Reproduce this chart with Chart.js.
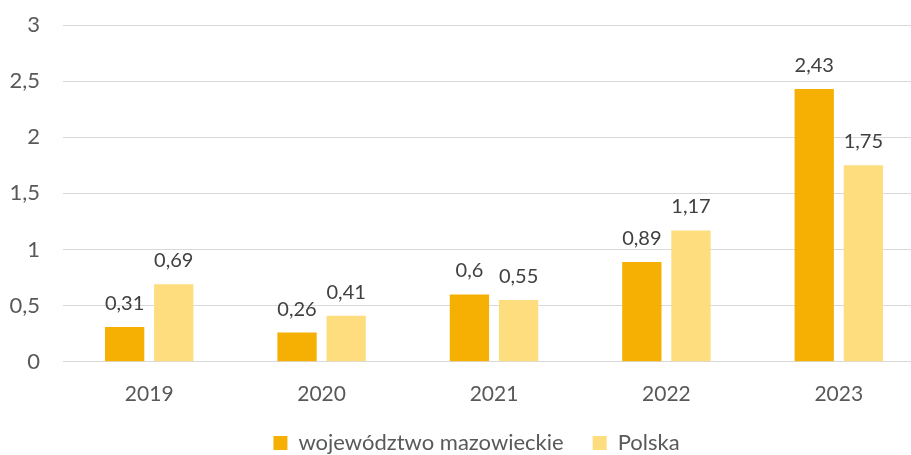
<!DOCTYPE html>
<html>
<head>
<meta charset="utf-8">
<script src="https://cdn.jsdelivr.net/npm/chart.js@4"></script>
<style>
  html, body { margin: 0; padding: 0; background: #fff; overflow: hidden; }
  #wrap { width: 925px; height: 455px; }
</style>
</head>
<body>
<div id="wrap"><canvas id="chart1"></canvas></div>
<script>
var years = ['2019', '2020', '2021', '2022', '2023'];
var mazowieckie = [0.31, 0.26, 0.6, 0.89, 2.43];
var polska = [0.69, 0.41, 0.55, 1.17, 1.75];
var yTicks = [0, 0.5, 1, 1.5, 2, 2.5, 3];

var fontFamily = 'Lato, "Open Sans", sans-serif';
var textColor = '#595959';

function fmt(v) {
    return String(v).replace('.', ',');
}

// draws the value above each bar
var valueLabels = {
    id: 'valueLabels',
    afterDatasetsDraw: function (chart) {
        var ctx = chart.ctx;
        ctx.save();
        ctx.font = '20px ' + fontFamily;
        ctx.fillStyle = '#404040';
        ctx.textAlign = 'center';
        ctx.textBaseline = 'alphabetic';
        chart.data.datasets.forEach(function (ds, i) {
            chart.getDatasetMeta(i).data.forEach(function (bar, j) {
                ctx.fillText(fmt(ds.data[j]), bar.x, bar.y - 17);
            });
        });
        ctx.restore();
    }
};

// legend padding is wide for the item gap, so take back some of its height
var legendTweak = {
    id: 'legendTweak',
    beforeLayout: function (chart) {
        var lg = chart.legend;
        if (lg && !lg._patched) {
            var origFit = lg.fit;
            lg.fit = function () {
                origFit.call(this);
                this.height -= 33;
            };
            lg._patched = true;
        }
    },
    afterLayout: function (chart) {
        var lg = chart.legend;
        if (lg) {
            lg.top -= 24;
            lg.height += 45;
            lg.bottom = lg.top + lg.height;
            lg.left += 14;
            lg.right += 14;
        }
    }
};

var ctx = document.getElementById('chart1').getContext('2d');
var myChart1 = new Chart(ctx, {
    type: 'bar',
    data: {
        labels: years,
        datasets: [{
            label: 'województwo mazowieckie',
            data: mazowieckie,
            backgroundColor: '#F6B004',
            barPercentage: 0.8,
            categoryPercentage: 0.57
        }, {
            label: 'Polska',
            data: polska,
            backgroundColor: '#FDDD7E',
            barPercentage: 0.8,
            categoryPercentage: 0.57
        }]
    },
    options: {
        responsive: true,
        maintainAspectRatio: false,
        animation: false,
        layout: {
            padding: { top: 25, right: 0, bottom: 0, left: 0 }
        },
        scales: {
            x: {
                grid: { display: false, drawTicks: false },
                border: { display: false },
                ticks: {
                    color: textColor,
                    padding: 20,
                    font: { family: fontFamily, size: 21 }
                }
            },
            y: {
                min: 0,
                max: 3,
                afterBuildTicks: function (scale) {
                    scale.ticks = yTicks.map(function (v) { return { value: v }; });
                },
                afterFit: function (scale) {
                    scale.width = 63;
                    scale.paddingTop = 0;
                    scale.paddingBottom = 0;
                },
                grid: { color: '#D9D9D9', lineWidth: 1, drawTicks: false },
                border: { display: false },
                ticks: {
                    color: textColor,
                    padding: 23,
                    font: { family: fontFamily, size: 22 },
                    callback: function (v) { return fmt(v); }
                }
            }
        },
        plugins: {
            legend: {
                position: 'bottom',
                labels: {
                    color: textColor,
                    boxWidth: 14,
                    boxHeight: 14,
                    padding: 29,
                    font: { family: fontFamily, size: 22 }
                }
            },
            tooltip: { enabled: false }
        }
    },
    plugins: [valueLabels, legendTweak]
});
</script>
</body>
</html>
